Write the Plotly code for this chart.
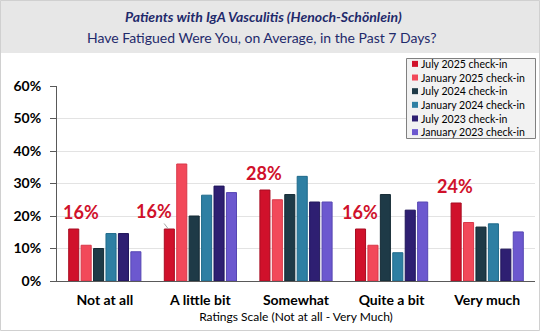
import plotly.graph_objects as go

categories = ["Not at all", "A little bit", "Somewhat", "Quite a bit", "Very much"]
series_names = ["July 2025 check-in", "January 2025 check-in", "July 2024 check-in",
                "January 2024 check-in", "July 2023 check-in", "January 2023 check-in"]
jul2025 = [16, 16, 28, 16, 24]
jan2025 = [11, 36, 25, 11, 18]
jul2024 = [10, 20, 26.6, 26.6, 16.6]
jan2024 = [14.6, 26.4, 32.2, 8.7, 17.6]
jul2023 = [14.6, 29.2, 24.3, 21.8, 9.8]
jan2023 = [9, 27.2, 24.3, 24.3, 15.1]
y_ticks = [0, 10, 20, 30, 40, 50, 60]

colors = ["#D0112B", "#F2495A", "#1E3A47", "#2E7FA3", "#2E1F72", "#6C58CF"]
edges = ["#A80D22", "#D8394A", "#142A34", "#1F6A8A", "#1F155A", "#5646B3"]

FONT = "Lato"
W, H = 540, 331
L, R, T, B = 57, 5, 86, 50
PW = W - L - R
PH = H - T - B


def px(xp):
    return (xp - L) / PW


def py(yp):
    return 1 + (T - yp) / PH


fig = go.Figure()
for name, vals, c, e in zip(series_names, [jul2025, jan2025, jul2024, jan2024, jul2023, jan2023], colors, edges):
    fig.add_trace(go.Bar(
        x=categories, y=[v / 100 for v in vals], name=name, showlegend=False,
        marker=dict(color=c, line=dict(color=e, width=1)),
    ))

# July 2025 value labels
label_dx = [8, -14, 0, 0, 0]
bar_dx = -32
for i, cat in enumerate(categories):
    v = jul2025[i]
    if i == 1:
        fig.add_annotation(x=cat, y=v / 100, xref="x", yref="y", text=f"<b>{v}%</b>",
                           showarrow=True, arrowhead=0, arrowwidth=1, arrowcolor="#A6A6A6",
                           xshift=bar_dx, ax=label_dx[i], ay=-18, standoff=0,
                           font=dict(family=FONT, size=18, color="#D0112B"))
    else:
        fig.add_annotation(x=cat, y=v / 100, xref="x", yref="y", text=f"<b>{v}%</b>",
                           showarrow=False, xshift=bar_dx + label_dx[i], yshift=17,
                           font=dict(family=FONT, size=18, color="#D0112B"))

# Title band
fig.add_shape(type="rect", xref="paper", yref="paper",
              x0=px(0), x1=px(W), y0=py(53), y1=py(0),
              fillcolor="#E7E7E7", line=dict(width=0), layer="below")
# Outer border
fig.add_shape(type="rect", xref="paper", yref="paper",
              x0=px(0.5), x1=px(W - 0.5), y0=py(H - 0.5), y1=py(0.5),
              fillcolor="rgba(0,0,0,0)", line=dict(width=1, color="#D0D0D0"))

fig.add_annotation(xref="paper", yref="paper", x=px(263), y=py(17),
                   text="<b><i>Patients with IgA Vasculitis (Henoch-Schönlein)</i></b>",
                   showarrow=False, font=dict(family=FONT, size=14, color="#1F2A6B"),
                   xanchor="center", yanchor="middle")
fig.add_annotation(xref="paper", yref="paper", x=px(262), y=py(37),
                   text="Have Fatigued Were You, on Average, in the Past 7 Days?",
                   showarrow=False, font=dict(family=FONT, size=14, color="#1F2A6B"),
                   xanchor="center", yanchor="middle")

# Custom compact legend
LEG_FS = 10.5
LEG_LH = LEG_FS * 1.3
fig.add_shape(type="rect", xref="paper", yref="paper",
              x0=px(406.5), x1=px(535.5), y0=py(138.5), y1=py(58.5),
              fillcolor="#F2F2F2", line=dict(width=1, color="#808080"))
leg_top = 98 - 3 * LEG_LH
for i, c in enumerate(colors):
    yc = leg_top + LEG_LH * (i + 0.5)
    fig.add_shape(type="rect", xref="paper", yref="paper",
                  x0=px(412), x1=px(418), y0=py(yc + 3), y1=py(yc - 3),
                  fillcolor=c, line=dict(width=0))
fig.add_annotation(xref="paper", yref="paper", x=px(420), y=py(98),
                   text="<br>".join(series_names), showarrow=False,
                   xanchor="left", yanchor="middle", align="left", borderpad=0,
                   font=dict(family=FONT, size=LEG_FS, color="#000000"))

fig.update_layout(
    width=W, height=H,
    margin=dict(l=L, r=R, t=T, b=B),
    paper_bgcolor="white", plot_bgcolor="white",
    barmode="group", bargap=0.22, bargroupgap=0.19,
    font=dict(family=FONT, color="#000000"),
    showlegend=False,
    xaxis=dict(showline=True, linecolor="#595959", linewidth=1, ticks="",
               ticklabelstandoff=6,
               tickfont=dict(family=FONT, size=14, color="#000000", weight="bold"),
               title=dict(text="Ratings Scale (Not at all - Very Much)", standoff=5,
                          font=dict(family=FONT, size=12, color="#000000"))),
    yaxis=dict(range=[0, 0.6], tickvals=[t / 100 for t in y_ticks],
               ticktext=[f"{t}%" for t in y_ticks],
               showline=True, linecolor="#595959", linewidth=1,
               ticks="outside", ticklen=6, tickcolor="#595959",
               ticklabelstandoff=6,
               showgrid=True, gridcolor="#E3E3E3", gridwidth=1, zeroline=False,
               tickfont=dict(family=FONT, size=14, color="#000000", weight="bold")),
)

fig.write_html("out.html")
